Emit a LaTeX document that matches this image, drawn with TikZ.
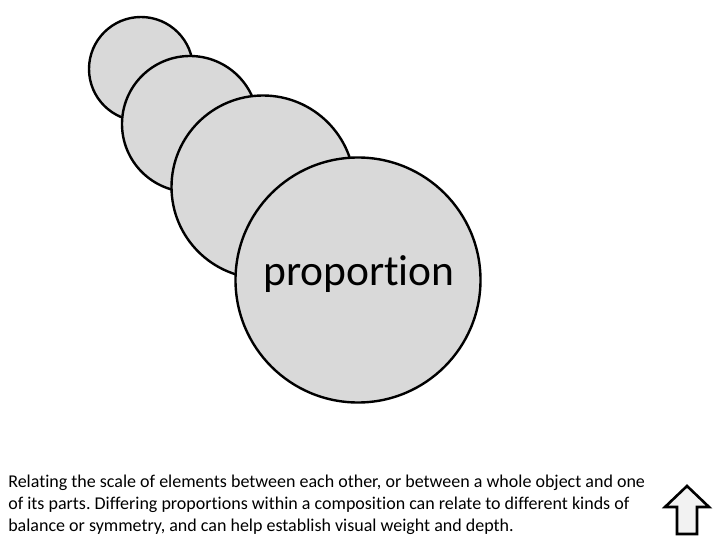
\documentclass[tikz,border=0pt]{standalone}
\usepackage{fontspec}
\setmainfont[Ligatures={NoCommon,NoContextual}]{Carlito}
\usetikzlibrary{positioning}
\frenchspacing

\definecolor{ballgray}{HTML}{D9D9D9}
\definecolor{arrowgray}{HTML}{F2F2F2}

\tikzset{
	ball/.style={circle, draw=black, fill=ballgray, line width=2.4pt, inner sep=0pt},
}

\begin{document}
\begin{tikzpicture}[x=1pt, y=-1pt, line width=0.2mm]
	\def\bigfont{\fontsize{43.5pt}{50pt}\selectfont}   % label in the big circle
	\def\capfont{\fontsize{18pt}{21.6pt}\selectfont} % caption

\useasboundingbox (0,0) rectangle (720,540);

% circles, small to large
\node[ball, minimum size=104pt] (ballA) at (141,69) {};
\node[ball, minimum size=136pt] (ballB) at (190,124) {};
\node[ball, minimum size=183pt] (ballC) at (263,187) {};
\node[ball, minimum size=245pt] (ballD) at (358,280) {};

\node[font=\bigfont, anchor=base] (label) at (359,285) {proportion};

% caption (base = last line)
\node[font=\capfont, anchor=base west, align=left, inner sep=0pt] (caption) at (8,531)
{Relating the scale of elements between each other, or between a whole object and one\\
of its parts. Differing proportions within a composition can relate to different kinds of\\
balance or symmetry, and can help establish visual weight and depth.};

% up arrow
\draw[black, fill=arrowgray, line width=2.6pt, line join=miter]
(687,486) -- (709,507) -- (697,507) -- (697,534) -- (677,534) -- (677,507) -- (665,507) -- cycle;

\end{tikzpicture}
\end{document}
